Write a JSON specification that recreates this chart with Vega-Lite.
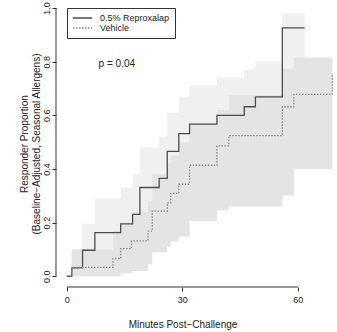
{
  "$schema": "https://vega.github.io/schema/vega-lite/v6.json",
  "width": 281,
  "height": 287,
  "autosize": {"type": "none"},
  "padding": {"left": 56, "top": 0, "right": 0, "bottom": 45},
  "background": "white",
  "config": {
    "view": {"stroke": null},
    "font": "Liberation Sans",
    "axis": {"domain": false, "grid": false, "tickColor": "#333", "tickSize": 4, "labelColor": "#222", "labelFont": "Liberation Sans", "labelFontSize": 9, "titleColor": "#222", "titleFont": "Liberation Sans", "titleFontSize": 10, "titleFontWeight": "normal"}
  },
  "datasets": {
    "km": [
      {"series": "0.5% Reproxalap", "t": 0, "y": 0, "lo": 0, "hi": 0},
      {"series": "0.5% Reproxalap", "t": 1.3, "y": 0.031, "lo": 0, "hi": 0.1},
      {"series": "0.5% Reproxalap", "t": 4.1, "y": 0.097, "lo": 0.02, "hi": 0.196},
      {"series": "0.5% Reproxalap", "t": 7.3, "y": 0.163, "lo": 0.05, "hi": 0.29},
      {"series": "0.5% Reproxalap", "t": 14, "y": 0.195, "lo": 0.07, "hi": 0.33},
      {"series": "0.5% Reproxalap", "t": 17.1, "y": 0.231, "lo": 0.1, "hi": 0.38},
      {"series": "0.5% Reproxalap", "t": 19, "y": 0.331, "lo": 0.17, "hi": 0.48},
      {"series": "0.5% Reproxalap", "t": 24, "y": 0.365, "lo": 0.2, "hi": 0.52},
      {"series": "0.5% Reproxalap", "t": 26.1, "y": 0.466, "lo": 0.28, "hi": 0.61},
      {"series": "0.5% Reproxalap", "t": 29.1, "y": 0.532, "lo": 0.34, "hi": 0.67},
      {"series": "0.5% Reproxalap", "t": 31.9, "y": 0.567, "lo": 0.38, "hi": 0.71},
      {"series": "0.5% Reproxalap", "t": 39, "y": 0.6, "lo": 0.41, "hi": 0.74},
      {"series": "0.5% Reproxalap", "t": 46.1, "y": 0.632, "lo": 0.44, "hi": 0.77},
      {"series": "0.5% Reproxalap", "t": 49, "y": 0.669, "lo": 0.48, "hi": 0.8},
      {"series": "0.5% Reproxalap", "t": 56, "y": 0.926, "lo": 0.75, "hi": 0.98},
      {"series": "0.5% Reproxalap", "t": 61.8, "y": 0.926, "lo": 0.75, "hi": 0.98},
      {"series": "Vehicle", "t": 0, "y": 0, "lo": 0, "hi": 0},
      {"series": "Vehicle", "t": 1.3, "y": 0.033, "lo": 0, "hi": 0.1},
      {"series": "Vehicle", "t": 12, "y": 0.066, "lo": 0, "hi": 0.17},
      {"series": "Vehicle", "t": 14, "y": 0.103, "lo": 0.01, "hi": 0.2},
      {"series": "Vehicle", "t": 16.8, "y": 0.132, "lo": 0.02, "hi": 0.24},
      {"series": "Vehicle", "t": 21.1, "y": 0.168, "lo": 0.045, "hi": 0.28},
      {"series": "Vehicle", "t": 22.2, "y": 0.243, "lo": 0.09, "hi": 0.38},
      {"series": "Vehicle", "t": 26.1, "y": 0.274, "lo": 0.11, "hi": 0.42},
      {"series": "Vehicle", "t": 27, "y": 0.309, "lo": 0.13, "hi": 0.45},
      {"series": "Vehicle", "t": 29.1, "y": 0.343, "lo": 0.147, "hi": 0.5},
      {"series": "Vehicle", "t": 31.9, "y": 0.414, "lo": 0.206, "hi": 0.57},
      {"series": "Vehicle", "t": 39, "y": 0.486, "lo": 0.246, "hi": 0.62},
      {"series": "Vehicle", "t": 42.1, "y": 0.524, "lo": 0.26, "hi": 0.675},
      {"series": "Vehicle", "t": 56, "y": 0.632, "lo": 0.3, "hi": 0.775},
      {"series": "Vehicle", "t": 59, "y": 0.678, "lo": 0.4, "hi": 0.816},
      {"series": "Vehicle", "t": 69, "y": 0.756, "lo": 0.44, "hi": 0.816}
    ]
  },
  "data": {"name": "km"},
  "layer": [
    {
      "transform": [{"filter": "datum.series === '0.5% Reproxalap'"}],
      "mark": {"type": "area", "interpolate": "step-after", "color": "#f0f0f0"},
      "encoding": {
        "x": {"field": "t", "type": "quantitative", "scale": {"domain": [-2.8, 70.2], "nice": false, "zero": false},
              "axis": {"values": [0, 30, 60], "labelPadding": 4, "title": "Minutes Post−Challenge", "titleX": 126.5, "titleY": 40, "titleBaseline": "alphabetic"}},
        "y": {"field": "lo", "type": "quantitative", "scale": {"domain": [-0.04, 1.03], "nice": false, "zero": false},
              "axis": {"values": [0, 0.2, 0.4, 0.6, 0.8, 1], "format": ".1f", "labelAngle": -90, "labelPadding": 1, "title": ["Responder Proportion", "(Baseline−Adjusted, Seasonal Allergens)"], "titleLineHeight": 12, "titlePadding": 1}},
        "y2": {"field": "hi"}
      }
    },
    {
      "transform": [{"filter": "datum.series === 'Vehicle'"}],
      "mark": {"type": "area", "interpolate": "step-after", "color": "#e4e4e4"},
      "encoding": {
        "x": {"field": "t", "type": "quantitative"},
        "y": {"field": "lo", "type": "quantitative"},
        "y2": {"field": "hi"}
      }
    },
    {
      "data": {"values": [{}]},
      "mark": {"type": "rule", "color": "#333", "strokeWidth": 1},
      "encoding": {"x": {"datum": 0}, "x2": {"datum": 60}, "y": {"datum": -0.04}}
    },
    {
      "data": {"values": [{}]},
      "mark": {"type": "rule", "color": "#333", "strokeWidth": 1},
      "encoding": {"x": {"datum": -2.8}, "y": {"datum": 0}, "y2": {"datum": 1}}
    },
    {
      "mark": {"type": "line", "interpolate": "step-after", "strokeWidth": 1.3},
      "encoding": {
        "x": {"field": "t", "type": "quantitative"},
        "y": {"field": "y", "type": "quantitative"},
        "color": {"field": "series", "type": "nominal",
                  "scale": {"domain": ["0.5% Reproxalap", "Vehicle"], "range": ["#4d4d4d", "#8a8a8a"]},
                  "legend": {"title": null, "orient": "none", "legendX": 11, "legendY": 8, "strokeColor": "#333", "fillColor": "white", "padding": 5, "symbolType": "stroke", "symbolSize": 361, "symbolStrokeWidth": 1.3, "clipHeight": 10, "rowPadding": 0, "labelFontSize": 9, "labelOffset": 7, "labelColor": "#222", "labelFont": "Liberation Sans"}},
        "strokeDash": {"field": "series", "type": "nominal",
                  "scale": {"domain": ["0.5% Reproxalap", "Vehicle"], "range": [[1, 0], [1.5, 1.5]]},
                  "legend": {"title": null, "orient": "none", "legendX": 11, "legendY": 8, "strokeColor": "#333", "fillColor": "white", "padding": 5, "symbolType": "stroke", "symbolSize": 361, "symbolStrokeWidth": 1.3, "clipHeight": 10, "rowPadding": 0, "labelFontSize": 9, "labelOffset": 7, "labelColor": "#222", "labelFont": "Liberation Sans"}}
      }
    },
    {
      "data": {"values": [{}]},
      "mark": {"type": "text", "fontSize": 10, "color": "#222", "font": "Liberation Sans"},
      "encoding": {"x": {"datum": 13}, "y": {"datum": 0.79}, "text": {"value": "p = 0.04"}}
    }
  ]
}
